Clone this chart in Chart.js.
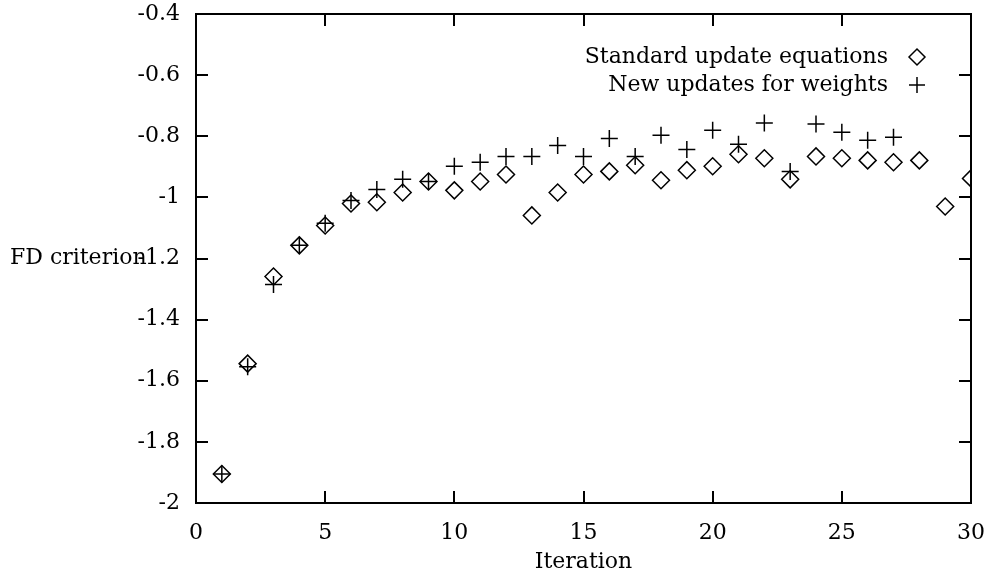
<!DOCTYPE html>
<html>
<head>
<meta charset="utf-8">
<script src="https://cdn.jsdelivr.net/npm/chart.js@4/dist/chart.umd.min.js"></script>
<style>
html,body{margin:0;padding:0;background:#fff;}
#wrap{width:990px;height:580px;}
</style>
</head>
<body>
<div id="wrap"><canvas id="c" width="990" height="580"></canvas></div>
<script>
const iterations = [1,2,3,4,5,6,7,8,9,10,11,12,13,14,15,16,17,18,19,20,21,22,23,24,25,26,27,28,29,30];
const standardValues = [-1.905,-1.544,-1.259,-1.157,-1.092,-1.020,-1.016,-0.984,-0.948,-0.977,-0.948,-0.925,-1.059,-0.984,-0.925,-0.915,-0.895,-0.944,-0.911,-0.898,-0.859,-0.872,-0.941,-0.866,-0.872,-0.879,-0.885,-0.879,-1.030,-0.938];
const newIterations = [1,2,3,4,5,6,7,8,9,10,11,12,13,14,15,16,17,18,19,20,21,22,23,24,25,26,27];
const newValues = [-1.905,-1.554,-1.285,-1.157,-1.085,-1.010,-0.974,-0.941,-0.948,-0.898,-0.885,-0.866,-0.866,-0.830,-0.866,-0.807,-0.866,-0.797,-0.843,-0.780,-0.826,-0.757,-0.915,-0.760,-0.787,-0.813,-0.803];
const seriesLabels = ["Standard update equations", "New updates for weights"];
const xTicks = [0,5,10,15,20,25,30];
const yTicks = [-2,-1.8,-1.6,-1.4,-1.2,-1,-0.8,-0.6,-0.4];
const xTitle = "Iteration";
const yTitle = "FD criterion";

const FONT = "DejaVu Serif";
const FS = 22;

const framePlugin = {
  id: 'frame',
  afterDraw(chart) {
    const ctx = chart.ctx;
    const a = chart.chartArea;
    const xs = chart.scales.x, ys = chart.scales.y;
    ctx.save();
    ctx.strokeStyle = '#000';
    ctx.lineWidth = 2;
    ctx.strokeRect(a.left, a.top, a.right - a.left, a.bottom - a.top);
    const L = 12;
    ctx.beginPath();
    xTicks.forEach(v => {
      const px = Math.round(xs.getPixelForValue(v));
      if (v !== xs.min && v !== xs.max) {
        ctx.moveTo(px, a.bottom); ctx.lineTo(px, a.bottom - L);
        ctx.moveTo(px, a.top); ctx.lineTo(px, a.top + L);
      }
    });
    yTicks.forEach(v => {
      const py = Math.round(ys.getPixelForValue(v));
      ctx.moveTo(a.left, py); ctx.lineTo(a.left + L, py);
      ctx.moveTo(a.right, py); ctx.lineTo(a.right - L, py);
    });
    ctx.stroke();

    // axis titles
    ctx.fillStyle = '#000';
    ctx.font = FS + 'px "' + FONT + '"';
    ctx.textBaseline = 'middle';
    ctx.textAlign = 'center';
    ctx.fillText(xTitle, (a.left + a.right) / 2, 562);
    ctx.textAlign = 'left';
    ctx.fillText(yTitle, 10, ys.getPixelForValue(-1.2));

    // legend (text right aligned, marker on right)
    const tx = 888, mx = 917;
    const rows = [57, 85];
    ctx.textAlign = 'right';
    ctx.fillText(seriesLabels[0], tx, rows[0]);
    ctx.fillText(seriesLabels[1], tx, rows[1]);
    ctx.lineWidth = 1.5;
    ctx.beginPath();
    const r = 8;
    ctx.moveTo(mx - r, rows[0]); ctx.lineTo(mx, rows[0] - r); ctx.lineTo(mx + r, rows[0]); ctx.lineTo(mx, rows[0] + r); ctx.closePath();
    ctx.moveTo(mx - r, rows[1]); ctx.lineTo(mx + r, rows[1]);
    ctx.moveTo(mx, rows[1] - r); ctx.lineTo(mx, rows[1] + r);
    ctx.stroke();
    ctx.restore();
  }
};

new Chart(document.getElementById('c'), {
  type: 'scatter',
  data: {
    datasets: [
      {
        label: seriesLabels[0],
        data: iterations.map((x, i) => ({x: x, y: standardValues[i]})),
        pointStyle: 'rectRot',
        pointRadius: 8.5,
        pointBorderWidth: 1.5,
        borderColor: '#000',
        backgroundColor: 'rgba(0,0,0,0)',
        showLine: false
      },
      {
        label: seriesLabels[1],
        data: newIterations.map((x, i) => ({x: x, y: newValues[i]})),
        pointStyle: 'cross',
        pointRadius: 8.5,
        pointBorderWidth: 1.5,
        borderColor: '#000',
        backgroundColor: '#000',
        showLine: false
      }
    ]
  },
  options: {
    responsive: false,
    animation: false,
    devicePixelRatio: 1,
    layout: { padding: { left: 0, top: 14, right: 19, bottom: 0 } },
    plugins: { legend: { display: false }, tooltip: { enabled: false } },
    scales: {
      x: {
        type: 'linear', min: 0, max: 30,
        afterBuildTicks: s => { s.ticks = xTicks.map(v => ({value: v})); },
        afterFit: s => { s.height = 77; s.paddingLeft = 0; s.paddingRight = 0; },
        grid: { display: false, drawTicks: false },
        border: { display: false },
        ticks: { color: '#000', padding: 17, maxRotation: 0, font: { family: FONT, size: FS }, callback: v => String(v) }
      },
      y: {
        type: 'linear', min: -2, max: -0.4,
        afterBuildTicks: s => { s.ticks = yTicks.map(v => ({value: v})); },
        afterFit: s => { s.width = 196; s.paddingTop = 0; s.paddingBottom = 0; },
        grid: { display: false, drawTicks: false },
        border: { display: false },
        ticks: { color: '#000', padding: 16, font: { family: FONT, size: FS }, callback: v => String(Number(v.toFixed(1))) }
      }
    }
  },
  plugins: [framePlugin]
});
</script>
</body>
</html>
